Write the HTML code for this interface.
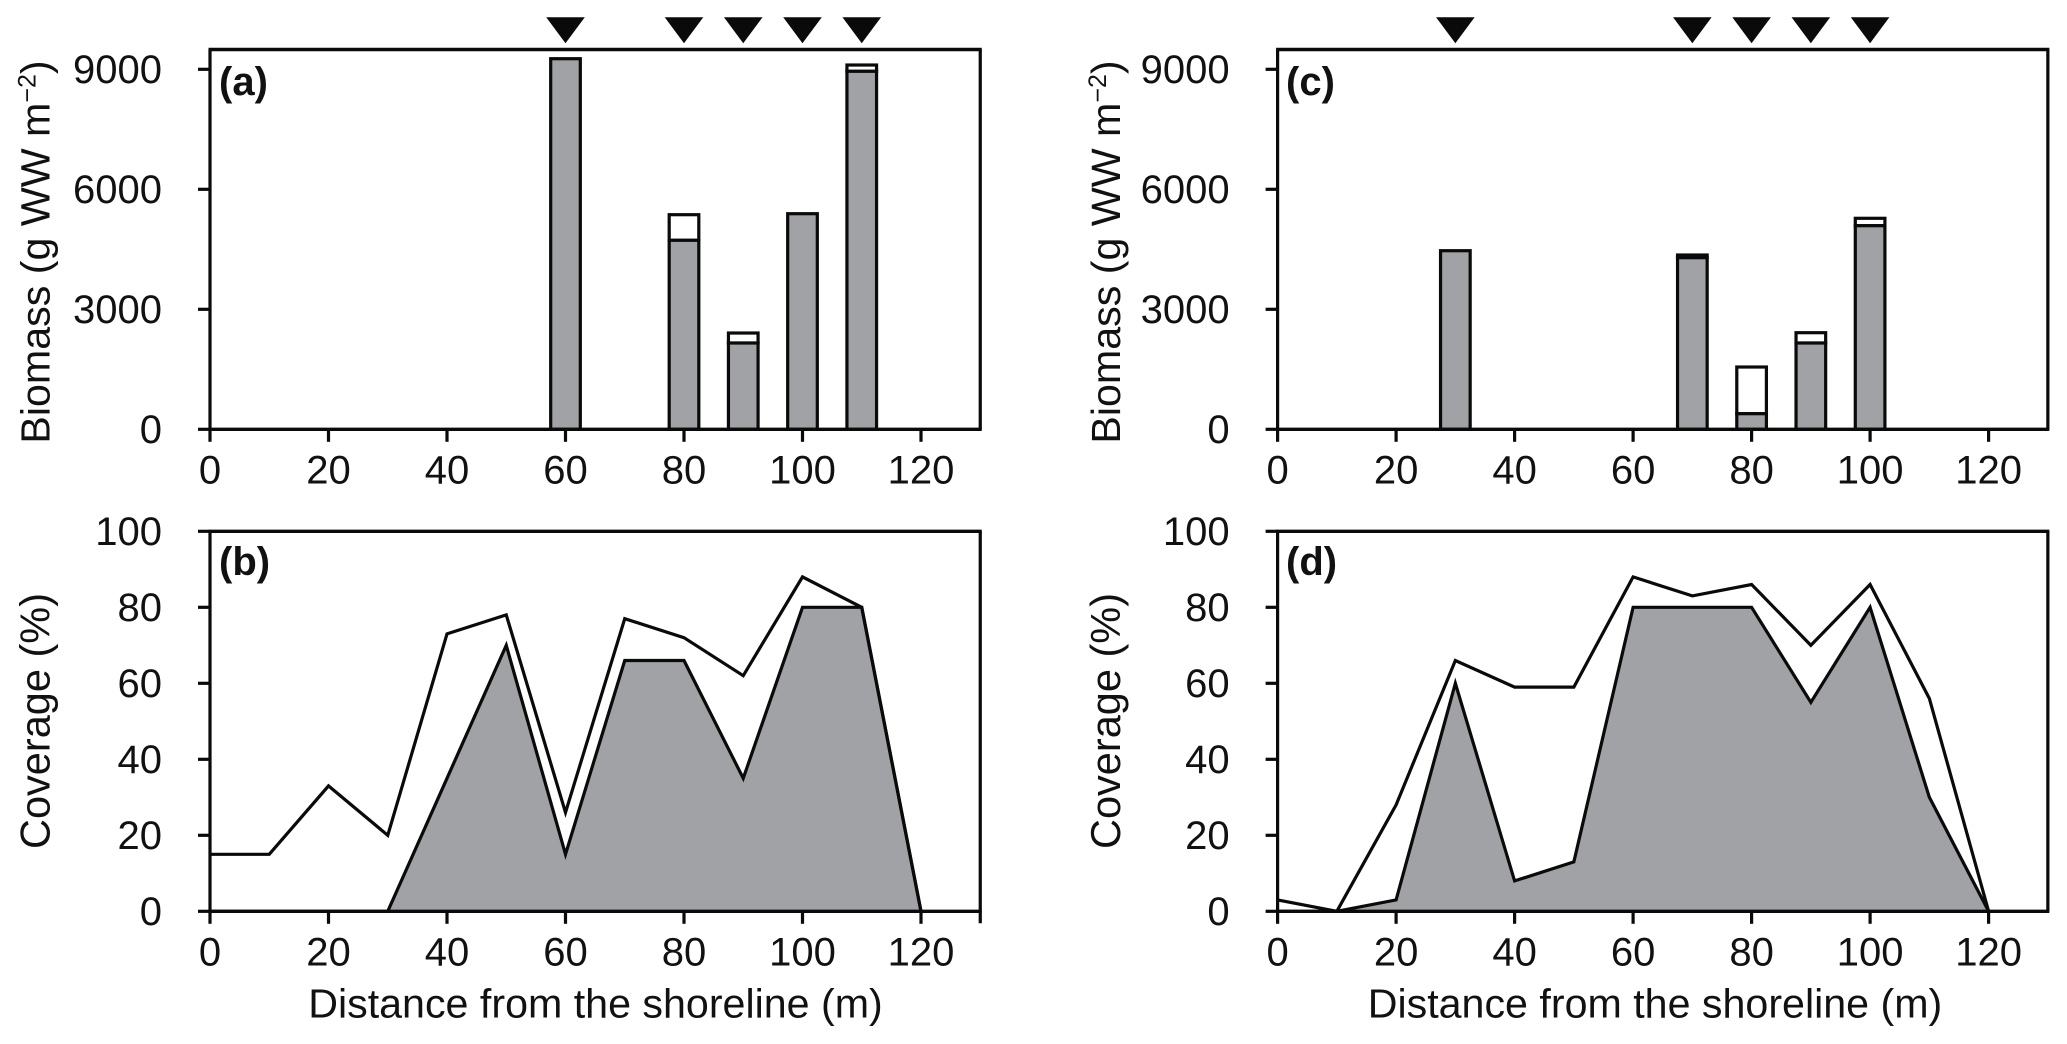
<!DOCTYPE html>
<html lang="en">
<head>
<meta charset="utf-8">
<title>Biomass and coverage vs distance from the shoreline</title>
<style>
html,body{margin:0;padding:0;background:#fff;width:2067px;height:1044px;overflow:hidden}
svg{display:block}
text{font-family:"Liberation Sans",Arial,sans-serif;font-size:40px;fill:#111}
</style>
</head>
<body>
<svg id="chart" xmlns="http://www.w3.org/2000/svg" width="2067" height="1044" viewBox="0 0 2067 1044">
  <text x="219" y="95" style="font-weight:bold">(a)</text>
  <text x="219" y="575" style="font-weight:bold">(b)</text>
  <text x="1286" y="95" style="font-weight:bold">(c)</text>
  <text x="1286" y="575" style="font-weight:bold">(d)</text>

  <text transform="translate(49.5,252) rotate(-90)" text-anchor="middle" style="font-size:41.2px">Biomass (g WW m<tspan dy="-14" style="font-size:25px">−2</tspan><tspan dy="14">)</tspan></text>
  <text transform="translate(1120,252) rotate(-90)" text-anchor="middle" style="font-size:41.2px">Biomass (g WW m<tspan dy="-14" style="font-size:25px">−2</tspan><tspan dy="14">)</tspan></text>
  <text transform="translate(49.5,721) rotate(-90)" text-anchor="middle" style="font-size:41.5px">Coverage (%)</text>
  <text transform="translate(1120,721) rotate(-90)" text-anchor="middle" style="font-size:41.5px">Coverage (%)</text>
  <text x="595.5" y="1017.5" text-anchor="middle" style="font-size:41.2px">Distance from the shoreline (m)</text>
  <text x="1655" y="1017.5" text-anchor="middle" style="font-size:41.2px">Distance from the shoreline (m)</text>
</svg>
<script>
// ---- chart data ----
const xTicks = [0, 20, 40, 60, 80, 100, 120];
const biomassTicks = [0, 3000, 6000, 9000];
const coverageTicks = [0, 20, 40, 60, 80, 100];
const distances = [0, 10, 20, 30, 40, 50, 60, 70, 80, 90, 100, 110, 120];

const barPositionsA = [60, 80, 90, 100, 110];
const barTotalA = [9265, 5365, 2407, 5390, 9107];
const barGrayA = [9265, 4725, 2157, 5390, 8950];

const barPositionsC = [30, 70, 80, 90, 100];
const barTotalC = [4465, 4357, 1557, 2415, 5275];
const barGrayC = [4465, 4290, 390, 2157, 5090];

const coverageUpperB = [15, 15, 33, 20, 73, 78, 26, 77, 72, 62, 88, 80, 0];
const coverageLowerB = [0, 0, 0, 0, 35, 70, 15, 66, 66, 35, 80, 80, 0];

const coverageUpperD = [3, 0, 28, 66, 59, 59, 88, 83, 86, 70, 86, 56, 0];
const coverageLowerD = [0, 0, 3, 60, 8, 13, 80, 80, 80, 55, 80, 30, 0];

const GRAY = '#a1a2a5';
const INK = '#0a0a0a';
const svg = document.getElementById('chart');

function add(tag, attrs) {
  const el = document.createElementNS('http://www.w3.org/2000/svg', tag);
  for (const k in attrs) el.setAttribute(k, attrs[k]);
  svg.appendChild(el);
  return el;
}

function makeScales(left, top, bottom, yZero, yPerUnit) {
  return {
    x: v => left + v * 5.925,
    y: v => yZero - v * yPerUnit,
    left: left, right: left + 130 * 5.925, top: top, bottom: bottom
  };
}

function drawFrame(s, yTicks, id) {
  // right and left frame lines
  const frame = add('path', {
    d: 'M' + s.left + ' ' + s.bottom + 'V' + s.top + 'M' + s.right + ' ' + s.top + 'V' + (s.bottom + (id === 'b' ? 12 : 0)),
    fill: 'none', stroke: INK, 'stroke-width': 3.2
  });
  
  
  const topLine = add('line', { x1: s.left - 1.5, x2: s.right + 1.5, y1: s.top, y2: s.top, stroke: INK, 'stroke-width': 3.4 });
  
  
  const baseLine = add('line', { x1: s.left - 1.5, x2: s.right + 1.5, y1: s.bottom, y2: s.bottom, stroke: INK, 'stroke-width': 3.4 });
  
  

  yTicks.forEach(v => {
    const py = s.y(v);
    const tick = add('line', { x1: s.left - 12, x2: s.left, y1: py, y2: py, stroke: INK, 'stroke-width': 3.2 });
    
    
    const label = add('text', { x: s.left - 48, y: py + 13.5, 'text-anchor': 'end' });
    label.textContent = String(v);
    
    
  });
  xTicks.forEach(v => {
    const px = s.x(v);
    const tick = add('line', { x1: px, x2: px, y1: s.bottom, y2: s.bottom + 12.5, stroke: INK, 'stroke-width': 3.2 });
    
    
    const label = add('text', { x: px, y: s.bottom + 54, 'text-anchor': 'middle' });
    label.textContent = String(v);
    
    
  });
}

function drawBars(s, positions, totals, grays, id) {
  positions.forEach((pos, i) => {
    const x0 = s.x(pos - 2.5), x1 = s.x(pos + 2.5);
    const w = x1 - x0;
    const yT = s.y(totals[i]), yG = s.y(grays[i]);
    if (totals[i] > grays[i]) {
      const white = add('rect', { x: x0, y: yT, width: w, height: yG - yT, fill: '#fff', stroke: INK, 'stroke-width': 3.2 });
      
      
    }
    const gray = add('rect', { x: x0, y: yG, width: w, height: s.bottom - yG, fill: GRAY, stroke: INK, 'stroke-width': 3.2 });
    
    
    const tri = add('polygon', {
      points: (s.x(pos) - 19.3) + ',17.3 ' + (s.x(pos) + 19.3) + ',17.3 ' + s.x(pos) + ',43.3',
      fill: INK
    });
    
    
  });
}

function drawArea(s, upper, lower, id) {
  const lowerPts = distances.map((d, i) => s.x(d) + ',' + s.y(lower[i]));
  const upperPts = distances.map((d, i) => s.x(d) + ',' + s.y(upper[i]));
  const area = add('polygon', {
    points: lowerPts.join(' ') + ' ' + s.x(120) + ',' + s.y(0) + ' ' + s.x(0) + ',' + s.y(0),
    fill: GRAY, stroke: 'none'
  });
  
  
  const lowLine = add('polyline', { points: lowerPts.join(' '), fill: 'none', stroke: INK, 'stroke-width': 3.2, 'stroke-linejoin': 'miter' });
  
  
  const upLine = add('polyline', { points: upperPts.join(' '), fill: 'none', stroke: INK, 'stroke-width': 3.2, 'stroke-linejoin': 'miter' });
  
  
}

const scaleA = makeScales(210, 49.5, 429.3, 429.3, 120 / 3000);
const scaleC = makeScales(1277.6, 49.5, 429.3, 429.3, 120 / 3000);
const scaleB = makeScales(210, 531.3, 911.3, 911.3, 3.8);
const scaleD = makeScales(1277.6, 531.3, 911.3, 911.3, 3.8);

drawBars(scaleA, barPositionsA, barTotalA, barGrayA, 'a');
drawBars(scaleC, barPositionsC, barTotalC, barGrayC, 'c');
drawArea(scaleB, coverageUpperB, coverageLowerB, 'b');
drawArea(scaleD, coverageUpperD, coverageLowerD, 'd');

drawFrame(scaleA, biomassTicks, 'a');
drawFrame(scaleC, biomassTicks, 'c');
drawFrame(scaleB, coverageTicks, 'b');
drawFrame(scaleD, coverageTicks, 'd');
</script>
</body>
</html>
